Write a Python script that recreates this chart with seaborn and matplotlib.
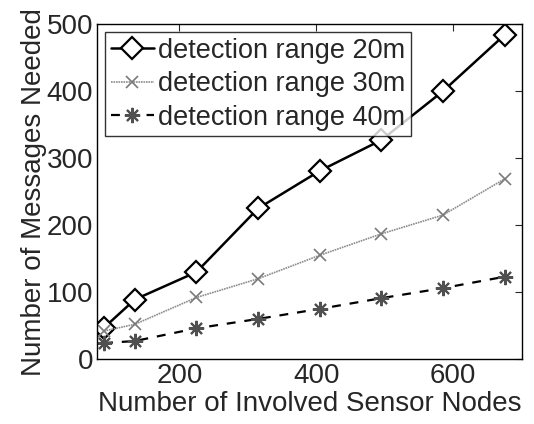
import matplotlib
matplotlib.use("Agg")
import matplotlib.pyplot as plt
import pandas as pd
import seaborn as sns

# data
nodes = [90, 135, 225, 315, 405, 495, 585, 675]
msgs_20m = [47, 89, 130, 225, 281, 327, 400, 484]
msgs_30m = [42, 52, 92, 120, 155, 187, 215, 269]
msgs_40m = [24, 27, 46, 60, 75, 91, 106, 123]
labels = ["detection range 20m", "detection range 30m", "detection range 40m"]

sns.set_style("white")
plt.rcParams['font.family'] = ['Liberation Sans', 'DejaVu Sans']
plt.rcParams['xtick.direction'] = 'in'
plt.rcParams['ytick.direction'] = 'in'

df = pd.DataFrame({"nodes": nodes, "m20": msgs_20m, "m30": msgs_30m, "m40": msgs_40m})

fig, ax = plt.subplots(figsize=(5.34, 4.24), dpi=100)

sns.lineplot(data=df, x="nodes", y="m20", ax=ax, color="black", linewidth=1.8,
             marker="D", markersize=11, markerfacecolor="white",
             markeredgecolor="black", markeredgewidth=1.6, label=labels[0])
sns.lineplot(data=df, x="nodes", y="m30", ax=ax, color="#8c8c8c", linewidth=1.2,
             linestyle=(0, (1, 0.5)), marker="x", markersize=9,
             markeredgecolor="#7a7a7a", markeredgewidth=1.2, label=labels[1])
sns.lineplot(data=df, x="nodes", y="m40", ax=ax, color="black", linewidth=1.6,
             linestyle=(0, (4, 4)), marker=(8, 2, 0), markersize=11,
             markeredgecolor="#505050", markeredgewidth=1.5, label=labels[2])

ax.set_xlim(80, 700)
ax.set_ylim(0, 500)
ax.set_xticks([200, 400, 600])
ax.set_yticks([0, 100, 200, 300, 400, 500])
ax.tick_params(labelsize=20, length=5, width=0.8, top=True, right=True, pad=3)
ax.set_xlabel("Number of Involved Sensor Nodes", fontsize=20, labelpad=1)
ax.set_ylabel("Number of Messages Needed", fontsize=20, labelpad=0)
for s in ax.spines.values():
    s.set_color("black")
    s.set_linewidth(1.0)

leg = ax.legend(loc="upper left", fontsize=19.5, frameon=True, fancybox=False,
                edgecolor="black", borderpad=0.2, labelspacing=0.28,
                handlelength=1.6, handletextpad=0.15, borderaxespad=0.3)
leg.get_frame().set_linewidth(1.0)

fig.subplots_adjust(left=0.182, right=0.977, top=0.943, bottom=0.153)
fig.savefig("out.png", dpi=100)
